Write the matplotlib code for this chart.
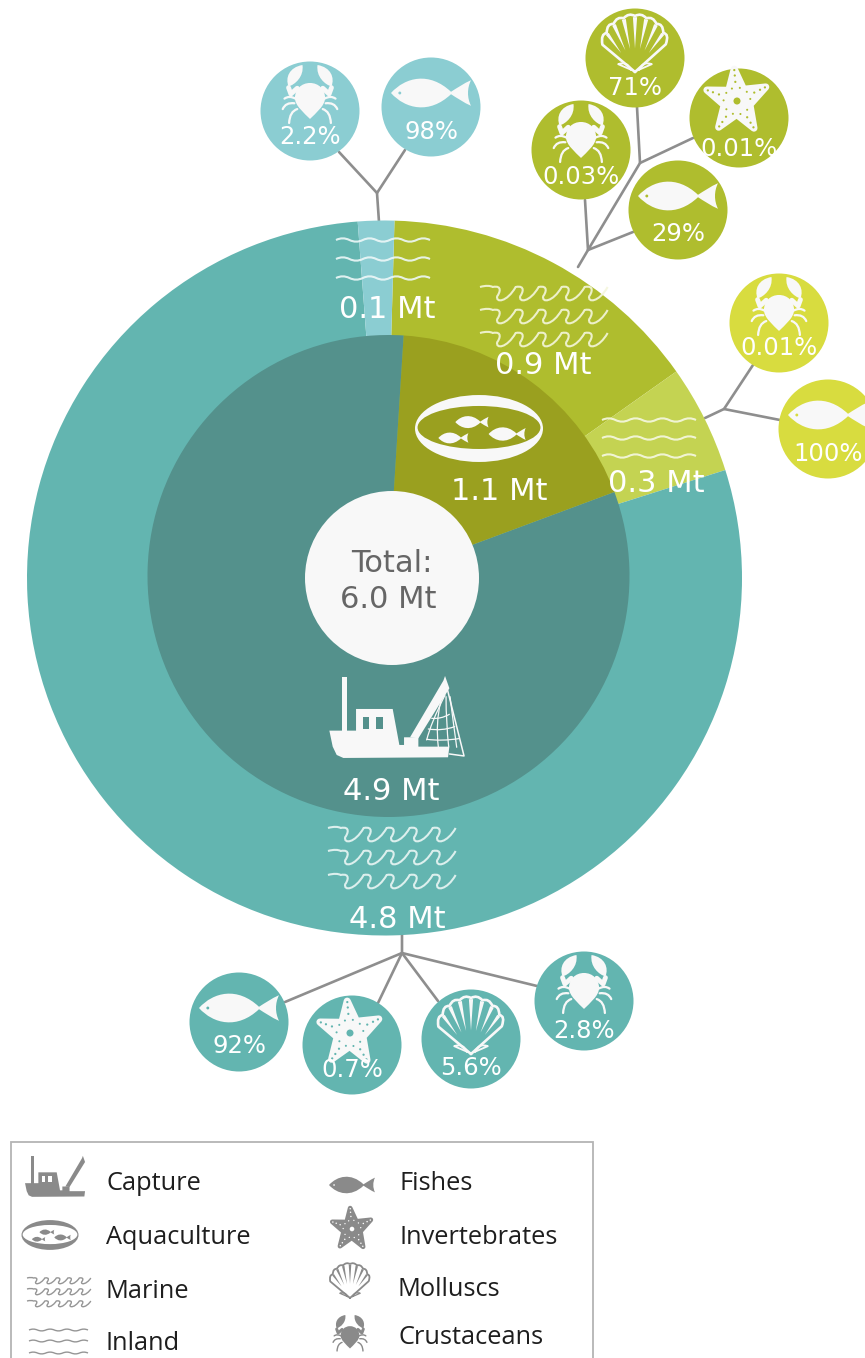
import matplotlib
matplotlib.use("Agg")
import numpy as np
import matplotlib.pyplot as plt
from matplotlib.path import Path
from matplotlib.patches import PathPatch, Circle, Ellipse, Rectangle, Polygon
from matplotlib.transforms import Affine2D

W, H = 865, 1358

# Production by source (Mt)
production_labels = ["Aquaculture", "Capture"]
production_values = [1.1, 4.9]
environment_labels = ["Marine aquaculture", "Inland aquaculture", "Marine capture", "Inland capture"]
environment_values = [0.9, 0.3, 4.8, 0.1]
total_label = ["Total:", "6.0 Mt"]

# Species shares per production environment (as printed in each badge)
inland_capture_groups = ["crab", "fish"]
inland_capture_shares = ["2.2%", "98%"]
marine_aqua_groups = ["crab", "shell", "star", "fish"]
marine_aqua_shares = ["0.03%", "71%", "0.01%", "29%"]
inland_aqua_groups = ["crab", "fish"]
inland_aqua_shares = ["0.01%", "100%"]
marine_capture_groups = ["fish", "star", "shell", "crab"]
marine_capture_shares = ["92%", "0.7%", "5.6%", "2.8%"]

TEAL = "#63B5B0"
TEAL_DK = "#54918C"
OLIVE = "#AFBD2E"
OLIVE_DK = "#9AA01F"
OLIVE_LT = "#C4D352"
SKY = "#8BCDD2"
YELLOW = "#D8DC3F"
GREY = "#8E8E8E"
ICON = "#F8F8F8"
LEG = "#8A8A8A"

fig = plt.figure(figsize=(W / 100, H / 100), dpi=100)
ax = fig.add_axes([0, 0, 1, 1])


def up(y):
    return H - y


def place(verts, cx, cy, s):
    return Affine2D().scale(s).translate(cx, up(cy)).transform(np.asarray(verts, float))


def fill(verts, codes, cx, cy, s, color, z=6):
    ax.add_patch(PathPatch(Path(place(verts, cx, cy, s), codes), fc=color, ec="none", zorder=z))


def stroke(verts, codes, cx, cy, s, color, lw, z=6):
    ax.add_patch(PathPatch(Path(place(verts, cx, cy, s), codes), fc="none", ec=color, lw=lw,
                           zorder=z, capstyle="round", joinstyle="round"))


M, L, C3, C4, Z = Path.MOVETO, Path.LINETO, Path.CURVE3, Path.CURVE4, Path.CLOSEPOLY


def draw_fish(cx, cy, s, fg=ICON, bg=None, z=6):
    v = [(-.5, 0), (-.32, .2), (-.02, .27), (.25, .015),
         (.32, .06), (.41, .12), (.5, .16),
         (.45, .06), (.45, -.06), (.5, -.16),
         (.41, -.12), (.32, -.06), (.25, -.015),
         (-.02, -.27), (-.32, -.2), (-.5, 0), (-.5, 0)]
    c = [M] + [C4] * 15 + [Z]
    fill(v, c, cx, cy, s, fg, z)
    if bg:
        ax.add_patch(Circle((cx - .39 * s, up(cy)), .018 * s, fc=bg, ec="none", zorder=z + 1))


def draw_star(cx, cy, s, fg=ICON, bg=None, z=6):
    tips = np.radians([95, 26, -58, -125, 160])
    rests = np.radians([60.5, -16, -91.5, -162.5, 127.5])
    pts = []
    for a, r in zip(tips, rests):
        pts.append((np.cos(a), np.sin(a)))
        pts.append((.42 * np.cos(r), .42 * np.sin(r)))
    ax.add_patch(Polygon(place(pts, cx, cy, s), closed=True, fc=fg, ec=fg, lw=s * .16,
                         joinstyle="round", zorder=z))
    if bg:
        ax.add_patch(Circle((cx, up(cy)), .11 * s, fc=bg, ec="none", zorder=z + 1))
        for a in tips:
            for r in (.6, .8, .97):
                ax.add_patch(Circle((cx + r * s * np.cos(a), up(cy) + r * s * np.sin(a)), .035 * s,
                                    fc=bg, ec="none", zorder=z + 1))
            for off in (.3, -.3):
                ax.add_patch(Circle((cx + .42 * s * np.cos(a + off), up(cy) + .42 * s * np.sin(a + off)),
                                    .032 * s, fc=bg, ec="none", zorder=z + 1))


def draw_shell(cx, cy, s, fg=ICON, z=6, lw=None):
    lw = s * .034 if lw is None else lw
    hinge = np.array([0, -.5])
    rib_deg = [-48, -36, -24, -12, 0, 12, 24, 36, 48]
    rib_len = [.74, .86, .94, .98, 1.0, .98, .94, .86, .74]

    def ray(deg, r):
        a = np.radians(90 - deg)
        return hinge + r * np.array([np.cos(a), np.sin(a)])

    v, c = [tuple(hinge)], [M]
    v.append(tuple(ray(-50, .76)))
    c.append(L)
    for i in range(len(rib_deg) - 1):
        mid = (rib_deg[i] + rib_deg[i + 1]) / 2
        v.append(tuple(ray(mid, max(rib_len[i], rib_len[i + 1]) * 1.07)))
        c.append(C3)
        v.append(tuple(ray(rib_deg[i + 1], rib_len[i + 1])))
        c.append(C3)
    v.append(tuple(hinge))
    c.append(L)
    stroke(v, c, cx, cy, s, fg, lw, z)
    for deg, l in zip(rib_deg[1:-1], rib_len[1:-1]):
        a = ray(deg - 2.2, l * .98)
        b = ray(deg + 2.2, l * .98)
        tip = ray(deg, .42)
        ax.add_patch(Polygon(place([a, b, tip], cx, cy, s), closed=True, fc=fg, ec="none", zorder=z))
    for sign in (-1, 1):
        stroke([(sign * .07, -.46), (sign * .14, -.3), (sign * .3, -.36), (sign * .07, -.46)],
               [M, C3, C3, L], cx, cy, s, fg, lw * .7, z)


def draw_crab(cx, cy, s, fg=ICON, z=6):
    body = [(0, .19), (.15, .19), (.26, .08), (.26, -.07),
            (.26, -.2), (.1, -.33), (0, -.43),
            (-.1, -.33), (-.26, -.2), (-.26, -.07),
            (-.26, .08), (-.15, .19), (0, .19), (0, .19)]
    fill(body, [M] + [C4] * 12 + [Z], cx, cy, s, fg, z)
    for sgn in (-1, 1):
        claw = [(sgn * .13, .5), (sgn * .36, .46), (sgn * .43, .28), (sgn * .37, .13),
                (sgn * .26, .16), (sgn * .1, .3), (sgn * .13, .5), (sgn * .13, .5)]
        fill(claw, [M] + [C4] * 6 + [Z], cx, cy, s, fg, z)
        stroke([(sgn * .37, .11), (sgn * .33, 0), (sgn * .22, .1)], [M, L, L], cx, cy, s, fg, s * .06, z)
        for leg in ([(sgn * .25, -.08), (sgn * .36, -.02), (sgn * .44, -.08)],
                    [(sgn * .27, -.16), (sgn * .42, -.14), (sgn * .47, -.26)],
                    [(sgn * .22, -.26), (sgn * .35, -.3), (sgn * .36, -.5)]):
            stroke(leg, [M, C3, C3], cx, cy, s, fg, s * .028, z)


def draw_boat(cx, cy, s, fg=ICON, bg=None, net=True, z=6):
    def zp(pts):
        return [((x - 260) / 300, (175 - y) / 300) for x, y in pts]

    hull = zp([(58, 212), (138, 212), (138, 147), (248, 147), (268, 255), (282, 255), (282, 232),
               (325, 232), (325, 260), (418, 260), (414, 292), (100, 294), (80, 285), (68, 260)])
    ax.add_patch(Polygon(place(hull, cx, cy, s), closed=True, fc=fg, ec="none", zorder=z))
    for rect in ([(95, 50), (110, 50), (110, 216), (95, 216)],
                 [(300, 232), (400, 62), (405, 48), (418, 85), (325, 235)]):
        ax.add_patch(Polygon(place(zp(rect), cx, cy, s), closed=True, fc=fg, ec="none", zorder=z))
    if bg:
        for rect in ([(158, 170), (178, 170), (178, 207), (158, 207)],
                     [(198, 170), (218, 170), (218, 207), (198, 207)]):
            ax.add_patch(Polygon(place(zp(rect), cx, cy, s), closed=True, fc=bg, ec="none", zorder=z + 1))
    if net:
        stroke(zp([(410, 80), (462, 288), (418, 282)]), [M, L, L], cx, cy, s, fg, 1.1, z)
        for seg in ([(405, 105), (362, 190), (350, 240)],
                    [(392, 125), (376, 190), (385, 262)],
                    [(408, 110), (408, 190), (416, 260)],
                    [(420, 110), (430, 190), (440, 262)],
                    [(365, 175), (392, 178), (418, 163)],
                    [(355, 207), (395, 214), (434, 200)],
                    [(350, 238), (395, 244), (446, 236)]):
            stroke(zp(seg), [M, C3, C3], cx, cy, s, fg, .9, z)


def draw_dish(cx, cy, s, fg, bg, z=6):
    ax.add_patch(Ellipse((cx, up(cy)), s, s * .523, fc=fg, ec="none", zorder=z))
    ax.add_patch(Ellipse((cx, up(cy - .008 * s)), s * .96, s * .336, fc=bg, ec="none", zorder=z + 1))
    for dx, dy, w in ((-.055, -.05, .26), (-.2, .074, .235), (.22, .043, .29)):
        draw_fish(cx + dx * s, cy + dy * s, w * s, fg, None, z + 2)


def marine_waves(x0, rows, unit, amp, color, lw, n=5, alpha=.9):
    for y in rows:
        v, c = [(-.55 * unit, 0)], [M]
        v += [(-.3 * unit, .12 * amp), (-.1 * unit, .1 * amp), (0, 0)]
        c += [C4] * 3
        for i in range(n):
            xo = i * unit
            v += [(xo + .45 * unit, .15 * amp), (xo + .3 * unit, -.45 * amp), (xo + .2 * unit, -.65 * amp),
                  (xo + .12 * unit, -1.15 * amp), (xo + .62 * unit, -1.1 * amp), (xo + unit, 0)]
            c += [C4] * 6
        xy = np.array(v) + [x0 + .55 * unit, up(y) + .5 * amp]
        ax.add_patch(PathPatch(Path(xy, c), fc="none", ec=color, lw=lw, alpha=alpha, zorder=5))


def inland_waves(x0, x1, rows, amp, color, lw, n=7, alpha=.9):
    step = (x1 - x0) / n
    for y in rows:
        v, c = [(x0, up(y))], [M]
        sign = 1
        for i in range(n):
            v += [(x0 + (i + .35) * step, up(y) + sign * amp), (x0 + (i + .65) * step, up(y) + sign * amp),
                  (x0 + (i + 1) * step, up(y))]
            c += [C4] * 3
            sign = -sign
        ax.add_patch(PathPatch(Path(v, c), fc="none", ec=color, lw=lw, alpha=alpha, zorder=5))


def link(points):
    xs = [p[0] for p in points]
    ys = [up(p[1]) for p in points]
    ax.plot(xs, ys, color=GREY, lw=1.9, solid_capstyle="round", solid_joinstyle="miter", zorder=1)


def badge(kind, share, spot, color):
    cx, cy, icon_dy, text_dy = spot
    ax.add_patch(Circle((cx, up(cy)), 49.5, fc=color, ec="none", zorder=3))
    if kind == "fish":
        draw_fish(cx, cy + icon_dy, 80, ICON, color)
    elif kind == "crab":
        draw_crab(cx, cy + icon_dy, 58, ICON)
    elif kind == "shell":
        draw_shell(cx, cy + icon_dy, 56, ICON)
    else:
        draw_star(cx - 2, cy + icon_dy, 32, ICON, color)
    ax.text(cx, up(cy + text_dy), share, color="white", fontsize=17.5, ha="center", va="center", zorder=8)


# Two concentric rings of production
ax.pie(environment_values, center=(384.5, up(578)), radius=357.5, startangle=88.4, counterclock=False,
       colors=[OLIVE, OLIVE_LT, TEAL, SKY], wedgeprops=dict(linewidth=0), normalize=True)
ax.pie(production_values, center=(388.5, up(576)), radius=241, startangle=86.4, counterclock=False,
       colors=[OLIVE_DK, TEAL_DK], wedgeprops=dict(linewidth=0), normalize=True)
for w in ax.patches:
    w.set_zorder(2 if w.r > 300 else 2.5)
ax.add_patch(Circle((392, up(578)), 87, fc="#F8F8F8", ec="none", zorder=4))

# Ring labels
ring_text = [("4.9 Mt", 391, 792), ("4.8 Mt", 397, 919), ("1.1 Mt", 499, 491),
             ("0.9 Mt", 543, 365), ("0.3 Mt", 656, 483), ("0.1 Mt", 387, 310)]
for s, x, y in ring_text:
    ax.text(x, up(y), s, color="white", fontsize=22, ha="center", va="center", zorder=8)
ax.text(392, up(563), total_label[0], color="#666666", fontsize=22, ha="center", va="center", zorder=8)
ax.text(388, up(600), total_label[1], color="#666666", fontsize=22, ha="center", va="center", zorder=8)

# Pictograms inside the rings
draw_boat(396.7, 718.3, 100, ICON, TEAL_DK)
draw_dish(479, 428.5, 128, ICON, OLIVE_DK)
marine_waves(480, [294, 317, 340], 23, 14, "#F4F6DC", 1.5)
marine_waves(328, [835, 858, 882], 23, 14, "#EAF6F4", 1.5)
inland_waves(336, 430, [240, 259, 278], 2.2, "#EEF8F8", 1.5)
inland_waves(602, 696, [420, 438, 456], 2.2, "#F6F8E2", 1.5)

# Connectors from the rings to the badges
link([(379, 222), (377, 193), (339, 152)])
link([(377, 193), (405, 150)])
link([(578, 267), (588, 250), (640, 163), (637, 107)])
link([(588, 250), (585, 200)])
link([(588, 250), (633, 232)])
link([(640, 163), (693, 138)])
link([(705, 418), (724, 409), (753, 365)])
link([(724, 409), (780, 420)])
link([(402, 935), (402, 953), (285, 1002)])
link([(402, 953), (378, 1003)])
link([(402, 953), (438, 1001)])
link([(402, 953), (537, 986)])

# Species badges: centre x, centre y, pictogram offset, label offset
for kind, share, spot in zip(inland_capture_groups, inland_capture_shares,
                             [(310, 111, -17, 26), (431, 107, -14, 25)]):
    badge(kind, share, spot, SKY)
for kind, share, spot in zip(marine_aqua_groups, marine_aqua_shares,
                             [(581, 150, -17, 27), (635, 58, -14, 30), (739, 118, -17, 31), (678, 210, -14, 24)]):
    badge(kind, share, spot, OLIVE)
for kind, share, spot in zip(inland_aqua_groups, inland_aqua_shares,
                             [(779, 323, -17, 25), (828, 429, -14, 25)]):
    badge(kind, share, spot, YELLOW)
for kind, share, spot in zip(marine_capture_groups, marine_capture_shares,
                             [(239, 1022, -14, 24), (352, 1045, -12, 25), (471, 1039, -13, 29), (584, 1001, -17, 30)]):
    badge(kind, share, spot, TEAL)

# Key, running off the lower edge of the figure
ax.add_patch(Rectangle((11, up(1400)), 582, 258, fc="white", ec="#B4B4B4", lw=1.3, zorder=1))
key_left = [("Capture", 1183), ("Aquaculture", 1238), ("Marine", 1292), ("Inland", 1343)]
key_right = [("Fishes", 399, 1183), ("Invertebrates", 399, 1237), ("Molluscs", 398, 1289), ("Crustaceans", 399, 1337)]
for s, y in key_left:
    ax.text(106, up(y), s, color="#1E1E1E", fontsize=18.3, family="Open Sans", ha="left", va="center", zorder=8)
for s, x, y in key_right:
    ax.text(x, up(y), s, color="#1E1E1E", fontsize=18.3, family="Open Sans", ha="left", va="center", zorder=8)

draw_boat(58.7, 1177, 50, LEG, "white", net=False)
draw_dish(50, 1235, 57, LEG, "white")
marine_waves(27, [1281, 1292, 1304], 11.5, 6, LEG, 1.0)
inland_waves(29, 88, [1330, 1341, 1353], 1.2, LEG, 1.0)
draw_fish(352, 1185, 46, LEG, "white")
draw_star(352, 1229, 21, LEG, "white")
draw_shell(350, 1281, 34, LEG, lw=1.3)
draw_crab(350, 1333, 36, LEG)

ax.set_xlim(0, W)
ax.set_ylim(0, H)
ax.set_aspect("equal")
ax.axis("off")
fig.savefig("out.png", dpi=100, facecolor="white")
